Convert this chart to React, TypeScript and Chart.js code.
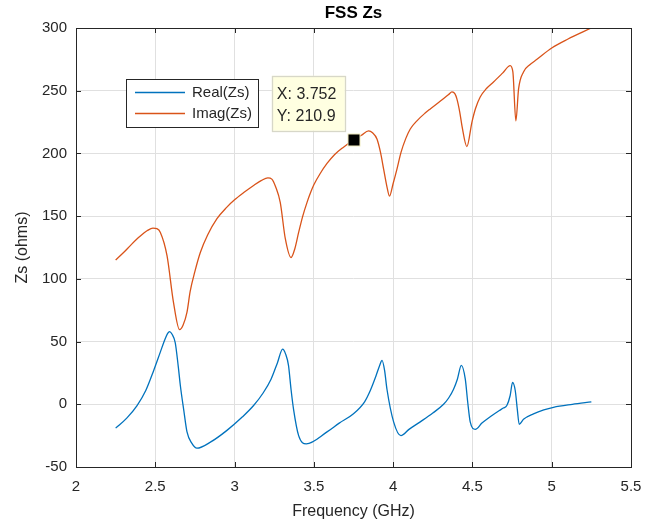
import React, { useEffect, useRef } from "react";
import { Chart, registerables } from "chart.js";

Chart.register(...registerables);

const TITLE = "FSS Zs";
const X_LABEL = "Frequency (GHz)";
const Y_LABEL = "Zs (ohms)";
const SERIES_NAMES = ["Real(Zs)", "Imag(Zs)"];

const realX = [2.25, 2.32, 2.385, 2.44, 2.49, 2.53, 2.56, 2.578, 2.59, 2.605, 2.626, 2.645, 2.658, 2.68, 2.70, 2.73, 2.763, 2.85, 2.95, 3.05, 3.12, 3.18, 3.23, 3.27, 3.303, 3.322, 3.34, 3.356, 3.372, 3.404, 3.452, 3.583, 3.66, 3.75, 3.82, 3.856, 3.89, 3.915, 3.93, 3.946, 3.961, 4.003, 4.049, 4.10, 4.171, 4.25, 4.318, 4.35, 4.381, 4.405, 4.43, 4.455, 4.47, 4.486, 4.518, 4.56, 4.612, 4.67, 4.695, 4.717, 4.738, 4.753, 4.77, 4.783, 4.795, 4.822, 4.885, 4.95, 5.011, 5.13, 5.25];
const realY = [-19, -11, -1, 11, 27, 41, 51.5, 56.5, 58, 56, 49, 30, 15, -5, -22, -31, -35, -30, -21, -10, -1, 9, 20, 33, 44, 40, 31, 12, -4, -25, -31.5, -22, -15, -7.5, 2, 11, 22, 31, 35, 27, 12, -14, -25, -20, -14, -7, 0, 5, 12, 20, 31, 20, 2, -14, -20, -15, -10, -5, -3, -1, 7, 17.5, 11, -4, -16, -12, -7.7, -4.5, -2.4, 0, 2];

const imagX = [2.25, 2.30, 2.35, 2.40, 2.45, 2.485, 2.51, 2.532, 2.574, 2.615, 2.653, 2.675, 2.70, 2.72, 2.75, 2.784, 2.83, 2.889, 2.95, 3.0, 3.06, 3.12, 3.17, 3.21, 3.235, 3.26, 3.288, 3.32, 3.356, 3.38, 3.404, 3.43, 3.457, 3.48, 3.5, 3.54, 3.583, 3.63, 3.687, 3.752, 3.80, 3.845, 3.87, 3.898, 3.92, 3.94, 3.96, 3.977, 4.00, 4.024, 4.05, 4.08, 4.108, 4.15, 4.2, 4.234, 4.3, 4.35, 4.371, 4.39, 4.402, 4.42, 4.434, 4.465, 4.497, 4.52, 4.549, 4.59, 4.633, 4.69, 4.738, 4.755, 4.774, 4.791, 4.822, 4.86, 4.907, 5.0, 5.1, 5.25];
const imagY = [115, 121, 127.5, 133.5, 138.5, 140.5, 140, 137, 118.5, 81, 59.5, 63, 73.5, 90, 106, 121, 135, 148, 157, 163, 169, 174.5, 178.5, 180.5, 179.5, 173, 161, 132, 117, 124, 137, 150, 161, 169, 175, 184, 192, 199, 205, 210.9, 214.5, 218, 216.5, 211.5, 201, 187.5, 174, 166, 176, 187.5, 201, 212, 219.5, 226, 232, 235.5, 242, 247, 249, 247.5, 243.5, 233, 222, 205.5, 225, 236, 245, 252, 257, 264, 270, 265, 226, 251.5, 265, 270.5, 275, 284, 291, 300];

const X_MIN = 2, X_MAX = 5.5, X_STEP = 0.5;
const Y_MIN = -50, Y_MAX = 300, Y_STEP = 50;

const TIP_X = 3.752;
const TIP_Y = 210.9;
const TIP_LINES = ["X: 3.752", "Y: 210.9"];

const COLORS = ["#0072BD", "#D95319"];
const TEXT = "#262626";
const FONT = "'Liberation Sans', Arial, Helvetica, sans-serif";

const overlay = {
  id: "overlay",
  afterDatasetsDraw(chart: any) {
    const ctx = chart.ctx;
    const a = chart.chartArea;
    const xs = chart.scales.x;
    const ys = chart.scales.y;
    ctx.save();
    ctx.strokeStyle = TEXT;
    ctx.lineWidth = 1;
    ctx.strokeRect(Math.round(a.left) + 0.5, Math.round(a.top) + 0.5, Math.round(a.right - a.left), Math.round(a.bottom - a.top));
    const tl = 5;
    ctx.beginPath();
    xs.ticks.forEach((t: any) => {
      const px = Math.round(xs.getPixelForValue(t.value)) + 0.5;
      ctx.moveTo(px, a.bottom); ctx.lineTo(px, a.bottom - tl);
      ctx.moveTo(px, a.top); ctx.lineTo(px, a.top + tl);
    });
    ys.ticks.forEach((t: any) => {
      const py = Math.round(ys.getPixelForValue(t.value)) + 0.5;
      ctx.moveTo(a.left, py); ctx.lineTo(a.left + tl, py);
      ctx.moveTo(a.right, py); ctx.lineTo(a.right - tl, py);
    });
    ctx.stroke();
    ctx.restore();
  },
  afterDraw(chart: any) {
    const ctx = chart.ctx;
    const a = chart.chartArea;
    const xs = chart.scales.x;
    const ys = chart.scales.y;
    const cx = (a.left + a.right) / 2;
    ctx.save();
    ctx.fillStyle = "#000";
    ctx.textAlign = "center";
    ctx.textBaseline = "middle";
    ctx.font = `bold 17px ${FONT}`;
    ctx.fillText(TITLE, cx, a.top - 15);
    ctx.fillStyle = TEXT;
    ctx.font = `16px ${FONT}`;
    ctx.fillText(X_LABEL, cx, a.bottom + 45);
    ctx.save();
    ctx.translate(a.left - 53, (a.top + a.bottom) / 2);
    ctx.rotate(-Math.PI / 2);
    ctx.fillText(Y_LABEL, 0, 0);
    ctx.restore();

    const lx = a.left + 50, ly = a.top + 51, lw = 132, lh = 48;
    ctx.fillStyle = "#fff";
    ctx.fillRect(lx, ly, lw, lh);
    ctx.strokeStyle = TEXT;
    ctx.lineWidth = 1;
    ctx.strokeRect(lx + 0.5, ly + 0.5, lw, lh);
    ctx.font = `15px ${FONT}`;
    ctx.textAlign = "left";
    SERIES_NAMES.forEach((name, i) => {
      const yy = ly + 13.5 + i * 21;
      ctx.strokeStyle = COLORS[i];
      ctx.lineWidth = 1.3;
      ctx.beginPath();
      ctx.moveTo(lx + 9, yy);
      ctx.lineTo(lx + 59, yy);
      ctx.stroke();
      ctx.fillStyle = TEXT;
      ctx.fillText(name, lx + 66, yy);
    });

    const mx = xs.getPixelForValue(TIP_X);
    const my = ys.getPixelForValue(TIP_Y);
    const bw = 73, bh = 55;
    const bx = mx - 9 - bw, by = my - 9 - bh;
    ctx.fillStyle = "rgb(255,255,225)";
    ctx.fillRect(bx, by, bw, bh);
    ctx.strokeStyle = "rgb(215,215,200)";
    ctx.strokeRect(Math.round(bx) + 0.5, Math.round(by) + 0.5, bw, bh);
    ctx.fillStyle = TEXT;
    ctx.font = `16px ${FONT}`;
    ctx.fillText(TIP_LINES[0], bx + 5, by + 19);
    ctx.fillText(TIP_LINES[1], bx + 5, by + 40.5);
    ctx.fillStyle = "rgb(240,235,190)";
    ctx.fillRect(Math.round(mx) - 6.5, Math.round(my) - 6.5, 13, 13);
    ctx.fillStyle = "#000";
    ctx.fillRect(Math.round(mx) - 5.5, Math.round(my) - 5.5, 11, 11);
    ctx.restore();
  },
};

export default function App() {
  const ref = useRef<HTMLCanvasElement | null>(null);
  useEffect(() => {
    if (!ref.current) return;
    const mk = (xa: number[], ya: number[]) => xa.map((x, i) => ({ x, y: ya[i] }));
    const chart = new Chart(ref.current, {
      type: "scatter",
      data: {
        datasets: [
          { label: SERIES_NAMES[0], data: mk(realX, realY), borderColor: COLORS[0], backgroundColor: COLORS[0] },
          { label: SERIES_NAMES[1], data: mk(imagX, imagY), borderColor: COLORS[1], backgroundColor: COLORS[1] },
        ].map((d) => ({ ...d, showLine: true, pointRadius: 0, borderWidth: 1.3, cubicInterpolationMode: "monotone" as const })),
      },
      options: {
        animation: false,
        responsive: false,
        devicePixelRatio: 1,
        layout: { padding: { left: 0, top: 28, right: 40, bottom: 0 } },
        plugins: { legend: { display: false }, title: { display: false }, tooltip: { enabled: false } },
        scales: {
          x: {
            type: "linear",
            min: X_MIN,
            max: X_MAX,
            ticks: { stepSize: X_STEP, color: TEXT, font: { size: 15, family: FONT }, padding: 11, maxRotation: 0, callback: (v: any) => `${+Number(v).toFixed(2)}` },
            grid: { color: "#e0e0e0", drawTicks: false },
            border: { display: false },
            afterFit: (s: any) => { s.height = 63; },
          },
          y: {
            type: "linear",
            min: Y_MIN,
            max: Y_MAX,
            ticks: { stepSize: Y_STEP, color: TEXT, font: { size: 15, family: FONT }, padding: 9 },
            grid: { color: "#e0e0e0", drawTicks: false },
            border: { display: false },
            afterFit: (s: any) => { s.width = 76; },
          },
        },
      },
      plugins: [overlay],
    });
    return () => chart.destroy();
  }, []);
  return (
    <div style={{ position: "fixed", left: 0, top: 0, width: 671, height: 530, background: "#fff" }}>
      <canvas ref={ref} width={671} height={530} style={{ width: 671, height: 530, display: "block" }} />
    </div>
  );
}
